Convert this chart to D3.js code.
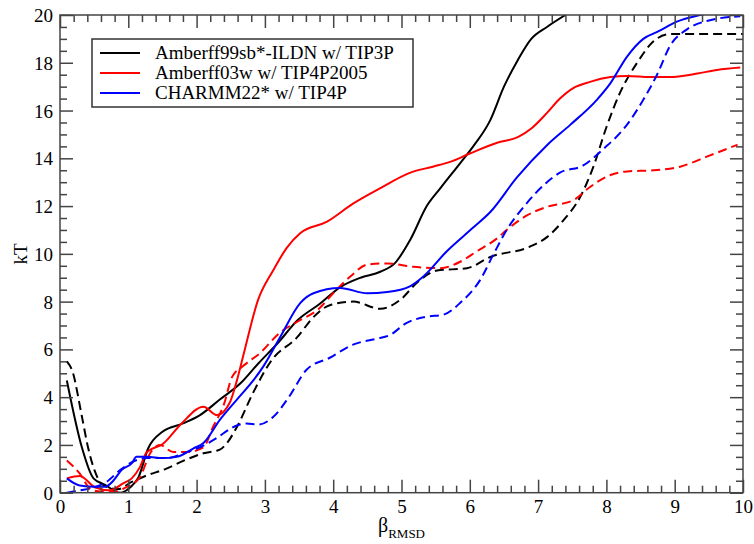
<!DOCTYPE html>
<html>
<head>
<meta charset="utf-8">
<script src="https://cdn.jsdelivr.net/npm/d3@7"></script>
<style>
  html, body { margin: 0; padding: 0; background: #fff; }
  svg { display: block; }
  text { font-family: "Liberation Serif", "Times New Roman", serif; fill: #000; }
</style>
</head>
<body>
<svg id="chart" width="754" height="544"></svg>
<script>
// ---------- data ----------
const xTicks = [0, 1, 2, 3, 4, 5, 6, 7, 8, 9, 10];
const yTicks = [0, 2, 4, 6, 8, 10, 12, 14, 16, 18, 20];

const legendLabels = ["Amberff99sb*-ILDN w/ TIP3P", "Amberff03w w/ TIP4P2005", "CHARMM22* w/ TIP4P"];
const seriesColors = ["#000000", "#ff0000", "#0000ff"];

// Amberff99sb*-ILDN solid
const blackSolidX = [0.1,0.32,0.49,0.66,0.88,1.03,1.15,1.29,1.5,1.8,2.05,2.34,2.65,2.9,3.2,3.47,3.8,4.1,4.4,4.69,4.9,5.13,5.37,5.57,5.86,6.05,6.3,6.5,6.7,6.9,7.13,7.4];
const blackSolidY = [4.7,1.9,0.6,0.33,0.0,0.23,0.65,1.85,2.55,2.9,3.25,3.9,4.6,5.4,6.3,7.2,7.9,8.6,9.0,9.25,9.6,10.6,12.0,12.75,13.8,14.5,15.6,17.0,18.1,19.0,19.5,20.0];
// Amberff99sb*-ILDN dashed
const blackDashX = [0.1,0.18,0.32,0.41,0.51,0.6,0.73,0.85,1.05,1.25,1.55,1.86,2.1,2.34,2.45,2.59,2.83,3.1,3.47,3.71,3.95,4.29,4.69,4.98,5.23,5.52,5.96,6.3,6.88,7.13,7.37,7.62,7.81,8.0,8.2,8.45,8.69,8.93,9.5,10];
const blackDashY = [5.5,5.1,3.2,1.9,0.9,0.4,0.2,0.15,0.45,0.7,1.0,1.4,1.65,1.8,2.1,2.75,4.2,5.55,6.5,7.35,7.85,8.0,7.7,8.07,8.8,9.3,9.4,9.87,10.3,10.7,11.4,12.4,13.65,15.3,16.75,18.0,18.9,19.2,19.2,19.2];

// Amberff03w solid
const redSolidX = [0.1,0.29,0.51,0.73,0.93,1.05,1.17,1.27,1.51,1.78,2.1,2.3,2.49,2.59,2.68,2.9,3.12,3.32,3.52,3.91,4.29,4.69,5.13,5.46,5.71,6.0,6.4,6.71,6.91,7.13,7.32,7.52,7.76,8.06,8.3,8.64,8.93,9.33,9.62,9.96];
const redSolidY = [0.6,0.7,0.23,0.1,0.4,0.6,1.07,1.7,2.05,2.9,3.6,3.25,3.8,4.7,5.7,8.07,9.3,10.25,10.87,11.35,12.1,12.75,13.4,13.65,13.85,14.2,14.65,14.9,15.27,15.9,16.5,16.95,17.2,17.4,17.45,17.4,17.4,17.55,17.7,17.8];
// Amberff03w dashed
const redDashX = [0.1,0.29,0.45,0.6,0.8,0.95,1.17,1.32,1.46,1.66,1.86,2.1,2.24,2.4,2.52,2.68,2.93,3.22,3.52,3.77,4.0,4.25,4.5,4.79,5.17,5.57,5.86,6.1,6.4,6.54,6.83,7.13,7.52,7.76,8.06,8.3,8.69,9.08,9.47,9.92];
const redDashY = [1.35,0.8,0.15,0.05,0.05,0.2,0.65,1.65,2.0,1.7,1.7,1.9,2.75,3.7,4.85,5.3,5.85,6.7,7.23,7.65,8.35,9.05,9.55,9.6,9.46,9.4,9.67,10.1,10.65,11.0,11.6,11.97,12.25,12.8,13.3,13.45,13.5,13.65,14.07,14.57];

// CHARMM22* solid
const blueSolidX = [0.1,0.29,0.51,0.66,0.78,0.9,1.05,1.12,1.27,1.51,1.71,1.95,2.1,2.34,2.59,2.83,2.98,3.22,3.52,3.71,4.1,4.5,4.79,5.13,5.32,5.66,6.05,6.3,6.69,7.13,7.47,7.86,8.06,8.3,8.54,8.75,9.04,9.37,9.7,10];
const blueSolidY = [0.6,0.3,0.25,0.25,0.5,0.95,1.23,1.5,1.5,1.45,1.5,1.85,2.08,3.05,3.9,4.7,5.3,6.5,7.95,8.35,8.57,8.35,8.4,8.65,9.05,10.1,11.1,11.75,13.2,14.55,15.4,16.45,17.15,18.25,19.0,19.3,19.73,20.0,20.15,20.3];
// CHARMM22* dashed
const blueDashX = [0.1,0.29,0.47,0.68,0.88,1.07,1.27,1.56,1.86,2.05,2.3,2.54,2.73,2.9,3.12,3.35,3.61,3.95,4.29,4.64,4.83,5.07,5.37,5.61,5.86,6.15,6.35,6.54,6.79,7.13,7.32,7.66,7.96,8.3,8.54,8.75,8.93,9.18,9.47,9.96];
const blueDashY = [0.0,0.1,0.2,0.45,0.95,1.3,1.45,1.45,1.7,1.9,2.3,2.75,2.9,2.85,3.17,4.0,5.15,5.65,6.2,6.45,6.6,7.1,7.37,7.45,7.95,8.9,10.0,11.0,11.97,13.0,13.4,13.7,14.4,15.4,16.45,17.55,18.7,19.4,19.75,19.95];

// ---------- chart ----------
const svg = d3.select("#chart");
const L = 60, R = 743, T = 15, B = 492.7;
const x = d3.scaleLinear().domain([0, 10]).range([L, R]);
const y = d3.scaleLinear().domain([0, 20]).range([B, T]);
const axisColor = "#444";

svg.append("defs").append("clipPath").attr("id", "clip")
  .append("rect").attr("x", L).attr("y", T).attr("width", R - L).attr("height", B - T);

const series = [
  { xs: blackSolidX, ys: blackSolidY, color: seriesColors[0], dash: null },
  { xs: blackDashX,  ys: blackDashY,  color: seriesColors[0], dash: "9,5" },
  { xs: redSolidX,   ys: redSolidY,   color: seriesColors[1], dash: null },
  { xs: redDashX,    ys: redDashY,    color: seriesColors[1], dash: "9,5" },
  { xs: blueSolidX,  ys: blueSolidY,  color: seriesColors[2], dash: null },
  { xs: blueDashX,   ys: blueDashY,   color: seriesColors[2], dash: "9,5" }
];

const line = d3.line().x(d => x(d[0])).y(d => y(d[1])).curve(d3.curveMonotoneX);
const g = svg.append("g").attr("clip-path", "url(#clip)");
series.forEach(s => {
  const pts = s.xs.map((v, i) => [v, s.ys[i]]);
  g.append("path").datum(pts)
    .attr("d", line)
    .attr("fill", "none")
    .attr("stroke", s.color)
    .attr("stroke-width", 2)
    .attr("stroke-linejoin", "round")
    .attr("stroke-dasharray", s.dash);
});

// axes with inward ticks on all 4 sides
const xMinor = d3.range(0, 10.001, 0.2).filter(v => Math.abs(v - Math.round(v)) > 1e-6);
const yMinor = d3.range(0, 20.001, 0.5).filter(v => Math.abs(v / 2 - Math.round(v / 2)) > 1e-6);
const majorLen = 13, minorLen = 7;

function addAxis(axisGen, tx, ty, showLabels) {
  const ax = svg.append("g").attr("transform", `translate(${tx},${ty})`).call(axisGen);
  ax.select(".domain").remove();
  ax.selectAll("line").attr("stroke", axisColor).attr("stroke-width", 1.5);
  ax.selectAll("text").style("font-family", '"Liberation Serif", "Times New Roman", serif')
    .style("font-size", "19px").attr("fill", "#000");
  if (!showLabels) ax.selectAll("text").remove();
  return ax;
}

// bottom
const bx = addAxis(d3.axisBottom(x).tickValues(xTicks).tickSize(-majorLen).tickPadding(0).tickFormat(d3.format("d")), 0, B, true);
bx.selectAll("text").attr("y", 20).attr("dy", 0);
addAxis(d3.axisBottom(x).tickValues(xMinor).tickSize(-minorLen).tickFormat(""), 0, B, false);
// top
addAxis(d3.axisTop(x).tickValues(xTicks).tickSize(-majorLen).tickFormat(""), 0, T, false);
addAxis(d3.axisTop(x).tickValues(xMinor).tickSize(-minorLen).tickFormat(""), 0, T, false);
// left
const ly = addAxis(d3.axisLeft(y).tickValues(yTicks).tickSize(-majorLen).tickPadding(0).tickFormat(d3.format("d")), L, 0, true);
ly.selectAll("text").attr("x", -7).attr("dy", "0.34em");
addAxis(d3.axisLeft(y).tickValues(yMinor).tickSize(-minorLen).tickFormat(""), L, 0, false);
// right
addAxis(d3.axisRight(y).tickValues(yTicks).tickSize(-majorLen).tickFormat(""), R, 0, false);
addAxis(d3.axisRight(y).tickValues(yMinor).tickSize(-minorLen).tickFormat(""), R, 0, false);

// frame
svg.append("rect").attr("x", L).attr("y", T).attr("width", R - L).attr("height", B - T)
  .attr("fill", "none").attr("stroke", axisColor).attr("stroke-width", 1.5);

// axis titles
svg.append("text").attr("transform", `translate(27,${y(10)}) rotate(-90)`)
  .attr("text-anchor", "middle").style("font-size", "19px").text("kT");

const xt = svg.append("text").attr("x", x(5)).attr("y", 532).attr("text-anchor", "middle").style("font-size", "20px");
xt.append("tspan").text("β");
xt.append("tspan").attr("dy", 6).style("font-size", "13px").text("RMSD");

// legend
const lg = svg.append("g");
lg.append("rect").attr("x", 92).attr("y", 39).attr("width", 321).attr("height", 68)
  .attr("fill", "#fff").attr("stroke", "#333").attr("stroke-width", 1.5);
legendLabels.forEach((lab, i) => {
  const yy = 53 + i * 20;
  lg.append("line").attr("x1", 100).attr("x2", 140).attr("y1", yy).attr("y2", yy)
    .attr("stroke", seriesColors[i]).attr("stroke-width", 2);
  lg.append("text").attr("x", 155).attr("y", yy).attr("dy", "0.34em")
    .style("font-size", "19px").text(lab);
});
</script>
</body>
</html>
